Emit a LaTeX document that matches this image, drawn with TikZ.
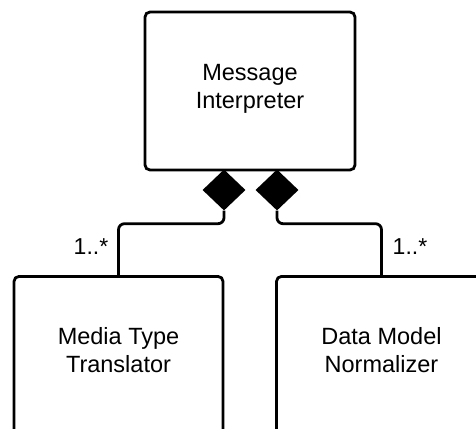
\documentclass[tikz,border=0pt]{standalone}
\usepackage{fontspec}
\setmainfont{Liberation Sans}
\usetikzlibrary{shapes.geometric}
\begin{document}
\begin{tikzpicture}[x=1pt,y=-1pt,
  box/.style={draw, line width=2.8pt, rounded corners=5pt, inner sep=0pt},
  comp/.style={diamond, fill=black, draw=none, minimum width=43pt, minimum height=41pt, inner sep=0pt},
  lbl/.style={font=\fontsize{23.5}{28}\selectfont, align=center, inner sep=0pt},
  mult/.style={font=\fontsize{23}{26}\selectfont, inner sep=0pt},
  link/.style={line width=2.8pt, rounded corners=6pt}]
\useasboundingbox (0,0) rectangle (476,428);
\clip (0,0) rectangle (476,428);
\node[box, minimum width=210pt, minimum height=158pt] (mi) at (250,91) {};
\node[lbl] (mit) at (250,89) {Message\\Interpreter};
\node[box, minimum width=209pt, minimum height=170pt, anchor=north] (mt) at (118.5,275) {};
\node[lbl] (mtt) at (118.5,350) {Media Type\\Translator};
\node[box, minimum width=210pt, minimum height=170pt, anchor=north] (dm) at (381.5,275) {};
\node[lbl] (dmt) at (381.5,350) {Data Model\\Normalizer};
\node[comp] (d1) at (224,190) {};
\node[comp] (d2) at (277,190) {};
\draw[link] (d1.south) -- ++(0,13) -| (mt.north);
\draw[link] (d2.south) -- ++(0,13) -| (dm.north);
\node[mult] (m1) at (91,247) {1..*};
\node[mult] (m2) at (410,247) {1..*};
\end{tikzpicture}
\end{document}
